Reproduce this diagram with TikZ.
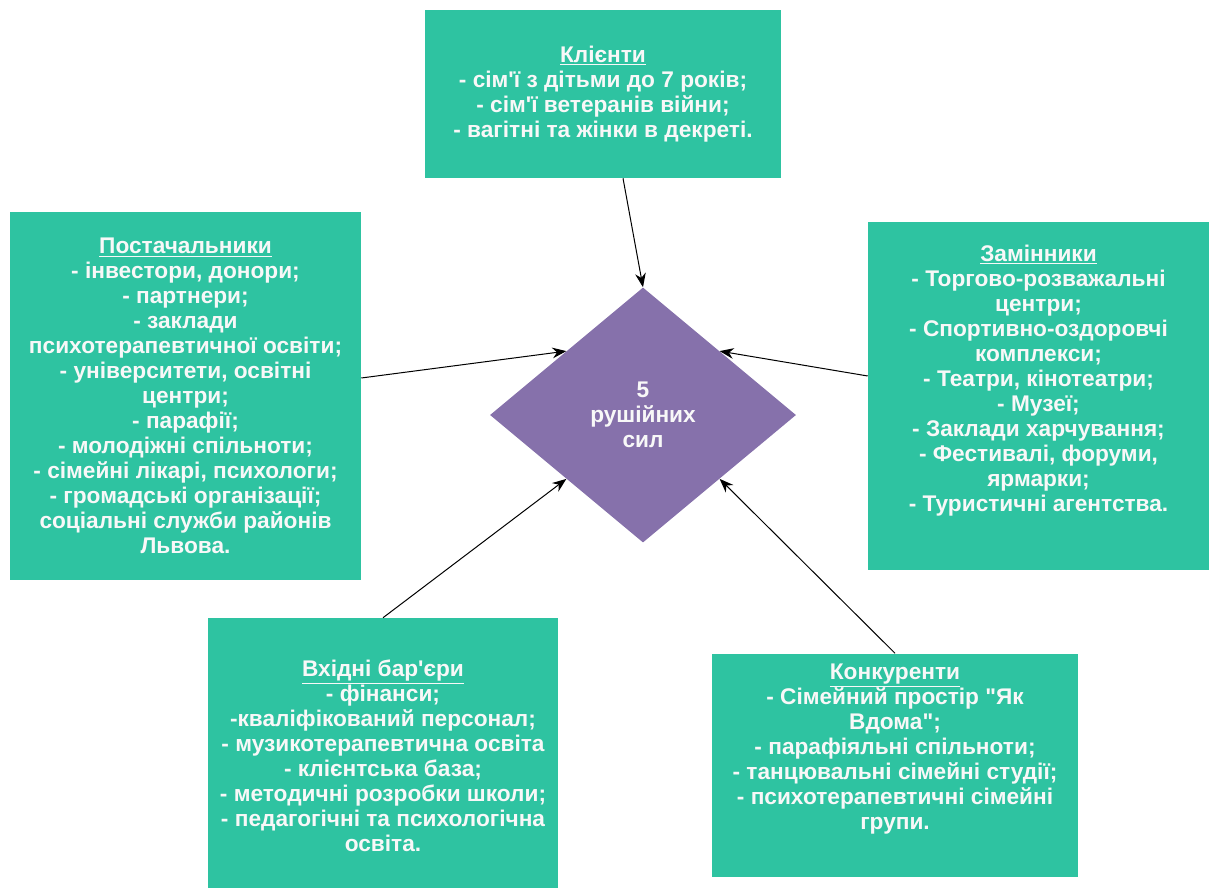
\documentclass[tikz,border=0pt]{standalone}
\usepackage{fontspec}
\setmainfont{Liberation Sans}
\usepackage{xcolor}
\usetikzlibrary{shapes.geometric,arrows.meta}
\definecolor{forceteal}{RGB}{46,195,161}
\definecolor{forcepurple}{RGB}{134,113,171}
\definecolor{forcetext}{RGB}{248,248,248}
\begin{document}
\begin{tikzpicture}[x=0.75pt,y=-0.75pt,
    card/.style={fill=forceteal, text=forcetext, align=center, inner sep=0pt,
        font=\fontsize{17pt}{18.75pt}\selectfont\bfseries},
    hub/.style={diamond, fill=forcepurple, text=forcetext, align=center, inner sep=0pt,
        minimum width=229.5pt, minimum height=191.25pt,
        font=\fontsize{17pt}{18.75pt}\selectfont\bfseries},
    force/.style={-{Stealth[length=10.5pt,width=8pt]}, line width=0.75pt}]
    \useasboundingbox (0,0) rectangle (1209,888);

    \node[hub] (hub) at (643,415) {5\\рушійних\\сил};

    \node[card, minimum width=267pt, minimum height=126pt] (clients) at (603,94)
        {\underline{Клієнти}\\- сім\textquotesingle ї з дітьми до 7 років;\\- сім\textquotesingle ї ветеранів війни;\\- вагітні та жінки в декреті.};

    \node[card, minimum width=263.25pt, minimum height=276pt] (suppliers) at (185.5,396)
        {\underline{Постачальники}\\- інвестори, донори;\\- партнери;\\- заклади\\психотерапевтичної освіти;\\- університети, освітні\\центри;\\- парафії;\\- молодіжні спільноти;\\- сімейні лікарі, психологи;\\- громадські організації;\\соціальні служби районів\\Львова.};

    \node[card, minimum width=255.75pt, minimum height=261pt] (substitutes) at (1038.5,396)
        {\underline{Замінники}\\- Торгово-розважальні\\центри;\\- Спортивно-оздоровчі\\комплекси;\\- Театри, кінотеатри;\\- Музеї;\\- Заклади харчування;\\- Фестивалі, форуми,\\ярмарки;\\- Туристичні агентства.\\[8pt]};

    \node[card, minimum width=262.5pt, minimum height=206.25pt] (barriers) at (383,755.5)
        {\underline{Вхідні бар\textquotesingle єри}\\- фінанси;\\-кваліфікований персонал;\\- музикотерапевтична освіта\\- клієнтська база;\\- методичні розробки школи;\\- педагогічні та психологічна\\освіта.};

    \node[card, minimum width=274.5pt, minimum height=167.25pt] (rivals) at (895,765)
        {\underline{Конкуренти}\\- Сімейний простір \textquotedbl Як\\Вдома\textquotedbl ;\\- парафіяльні спільноти;\\- танцювальні сімейні студії;\\- психотерапевтичні сімейні\\групи.\\[8pt]};

    \draw[force] ([xshift=15pt]clients.south) -- (hub.north);
    \draw[force] ([yshift=13.5pt]suppliers.east) -- (hub.north west);
    \draw[force] ([yshift=15pt]substitutes.west) -- (hub.north east);
    \draw[force] (barriers.north) -- (hub.south west);
    \draw[force] (rivals.north) -- (hub.south east);
\end{tikzpicture}
\end{document}
